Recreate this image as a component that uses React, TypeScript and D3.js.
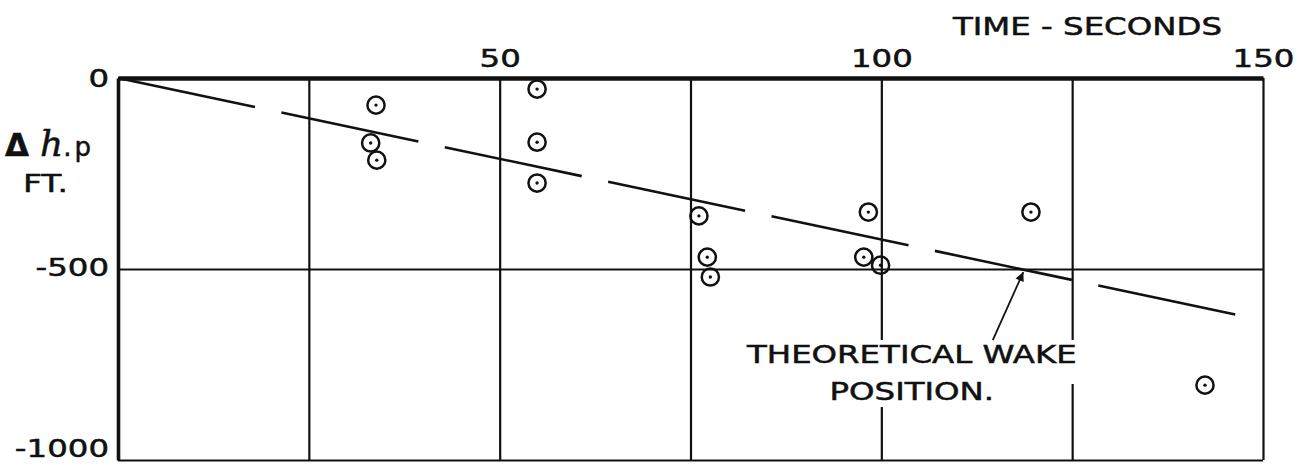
import React, { useEffect, useRef } from 'react';
import * as d3 from 'd3';

// time axis (seconds): grid every 25 s, labels every 50 s
const timeGrid = [25, 50, 75, 100, 125, 150];
const timeLabels = [50, 100, 150];
// height change axis (ft)
const dhTicks = [0, -500, -1000];

const obsTime = [33.8, 33.1, 33.9, 54.9, 54.9, 54.9, 76.1, 77.2, 77.6, 98.3, 97.7, 99.9, 119.6, 142.4];
const obsDh = [-71, -170, -215, -29, -168, -275, -361, -469, -521, -351, -469, -490, -351, -804];

// theoretical wake line
const theoryTime = [0, 146.6];
const theoryDh = [0, -620];

const xTitle = 'TIME - SECONDS';
const noteLines = ['THEORETICAL WAKE', 'POSITION.'];
const noteTime = 104;
const noteDh = [-746, -843];
const arrowFrom = [114.6, -686];
const arrowTo = [118.6, -508];

const W = 1309;
const H = 466;
const M = { top: 78, right: 46, bottom: 6, left: 118 };
const FONT = '"DejaVu Sans", sans-serif';
const INK = '#111';
const STRETCH = 1.35;

export default function App() {
  const svgRef = useRef<SVGSVGElement>(null);

  useEffect(() => {
    const svg = d3.select(svgRef.current);
    svg.selectAll('*').remove();

    const x = d3.scaleLinear().domain([0, 150]).range([M.left, W - M.right]);
    const y = d3.scaleLinear().domain([0, -1000]).range([M.top, H - M.bottom]);
    const plotW = x(150) - x(0);
    const plotH = y(-1000) - y(0);

    svg.append('rect').attr('width', W).attr('height', H).attr('fill', '#fff');

    // vertical grid + time labels on top
    const gx = svg
      .append('g')
      .attr('transform', `translate(0,${y(0)})`)
      .call(
        d3
          .axisTop(x)
          .tickValues(timeGrid)
          .tickSize(-plotH)
          .tickSizeOuter(0)
          .tickPadding(11)
          .tickFormat((d) => (timeLabels.includes(+d) ? String(d) : ''))
      );

    // horizontal grid + height labels on the left
    const gy = svg
      .append('g')
      .attr('transform', `translate(${x(0)},0)`)
      .call(
        d3
          .axisLeft(y)
          .tickValues(dhTicks)
          .tickSize(-plotW)
          .tickSizeOuter(0)
          .tickPadding(9)
          .tickFormat((d) => String(d))
      );

    [gx, gy].forEach((g) => {
      g.selectAll('.tick line').attr('stroke', INK).attr('stroke-width', 2.2);
      g.selectAll('.tick text')
        .attr('fill', INK)
        .attr('stroke', INK)
        .attr('stroke-width', 0.5)
        .attr('font-family', FONT)
        .attr('font-size', 24)
        .attr('class', 'stretch');
    });
    // labels sit a little above their lines toward the bottom
    gy.selectAll<SVGTextElement, number>('.tick text').attr('dy', (d) =>
      d === 0 ? '0.36em' : d === -500 ? '0.27em' : '-0.14em'
    );
    gx.select('.domain').attr('stroke', INK).attr('stroke-width', 4.5);
    gy.select('.domain').attr('stroke', INK).attr('stroke-width', 3.6);

    // axis titles
    svg
      .append('text')
      .attr('class', 'stretch')
      .attr('x', 953)
      .attr('y', 35)
      .attr('font-family', FONT)
      .attr('font-size', 24)
      .attr('fill', INK)
      .attr('stroke', INK)
      .attr('stroke-width', 0.5)
      .text(xTitle);

    const yt = svg
      .append('text')
      .attr('x', 5)
      .attr('y', 156)
      .attr('fill', INK)
      .attr('stroke', INK)
      .attr('stroke-width', 0.5)
      .attr('font-family', FONT);
    yt.append('tspan').attr('font-size', 31).attr('font-weight', 'bold').text('Δ');
    yt.append('tspan')
      .attr('dx', 11)
      .attr('font-size', 36)
      .attr('font-style', 'italic')
      .attr('font-family', '"DejaVu Serif", serif')
      .text('h');
    yt.append('tspan').attr('font-size', 26).attr('letter-spacing', 3).text('.p');

    svg
      .append('text')
      .attr('x', 23)
      .attr('y', 192)
      .attr('font-family', FONT)
      .attr('font-size', 25)
      .attr('fill', INK)
      .attr('stroke', INK)
      .attr('stroke-width', 0.5)
      .attr('textLength', 45)
      .attr('lengthAdjust', 'spacingAndGlyphs')
      .text('FT.');

    // annotation text (white backing breaks the grid like the original)
    const note = svg.append('g');
    noteLines.forEach((t, i) => {
      note
        .append('text')
        .attr('class', 'stretch')
        .attr('x', x(noteTime))
        .attr('y', y(noteDh[i]))
        .attr('text-anchor', 'middle')
        .attr('font-family', FONT)
        .attr('font-size', 24)
        .attr('fill', INK)
        .attr('stroke', INK)
        .attr('stroke-width', 0.5)
        .text(t);
    });

    svg.selectAll<SVGTextElement, unknown>('text.stretch').each(function () {
      const len = this.getComputedTextLength();
      if (len > 0) {
        d3.select(this).attr('textLength', len * STRETCH).attr('lengthAdjust', 'spacingAndGlyphs');
      }
    });

    note.selectAll<SVGTextElement, unknown>('text').each(function (_, i) {
      const b = this.getBBox();
      note
        .insert('rect', ':first-child')
        .attr('x', b.x - 4)
        .attr('y', b.y - 1)
        .attr('width', b.width + 8)
        .attr('height', b.height + (i === 0 ? 16 : 2))
        .attr('fill', '#fff');
    });

    // theoretical wake position (long dashes)
    const line = d3
      .line<number>()
      .x((d) => x(theoryTime[d]))
      .y((d) => y(theoryDh[d]));
    svg
      .append('path')
      .attr('d', line(d3.range(theoryTime.length)))
      .attr('fill', 'none')
      .attr('stroke', INK)
      .attr('stroke-width', 2.6)
      .attr('stroke-dasharray', '140 27');

    // arrow to the line
    svg
      .append('defs')
      .append('marker')
      .attr('id', 'head')
      .attr('viewBox', '0 0 10 10')
      .attr('refX', 10)
      .attr('refY', 5)
      .attr('markerWidth', 16)
      .attr('markerHeight', 9)
      .attr('markerUnits', 'userSpaceOnUse')
      .attr('orient', 'auto')
      .append('path')
      .attr('d', 'M0,0L10,5L0,10Z')
      .attr('fill', INK);
    svg
      .append('line')
      .attr('x1', x(arrowFrom[0]))
      .attr('y1', y(arrowFrom[1]))
      .attr('x2', x(arrowTo[0]))
      .attr('y2', y(arrowTo[1]))
      .attr('stroke', INK)
      .attr('stroke-width', 1.8)
      .attr('marker-end', 'url(#head)');

    // observations: circle with a centre dot
    const pts = svg
      .append('g')
      .selectAll('g')
      .data(d3.range(obsTime.length))
      .join('g')
      .attr('transform', (i) => `translate(${x(obsTime[i])},${y(obsDh[i])})`);
    pts.append('circle').attr('r', 8.6).attr('fill', 'none').attr('stroke', INK).attr('stroke-width', 2.5);
    pts.append('circle').attr('r', 1.7).attr('fill', INK);
  }, []);

  return (
    <svg
      ref={svgRef}
      width={W}
      height={H}
      style={{ position: 'absolute', left: 0, top: 0, background: '#fff' }}
    />
  );
}
